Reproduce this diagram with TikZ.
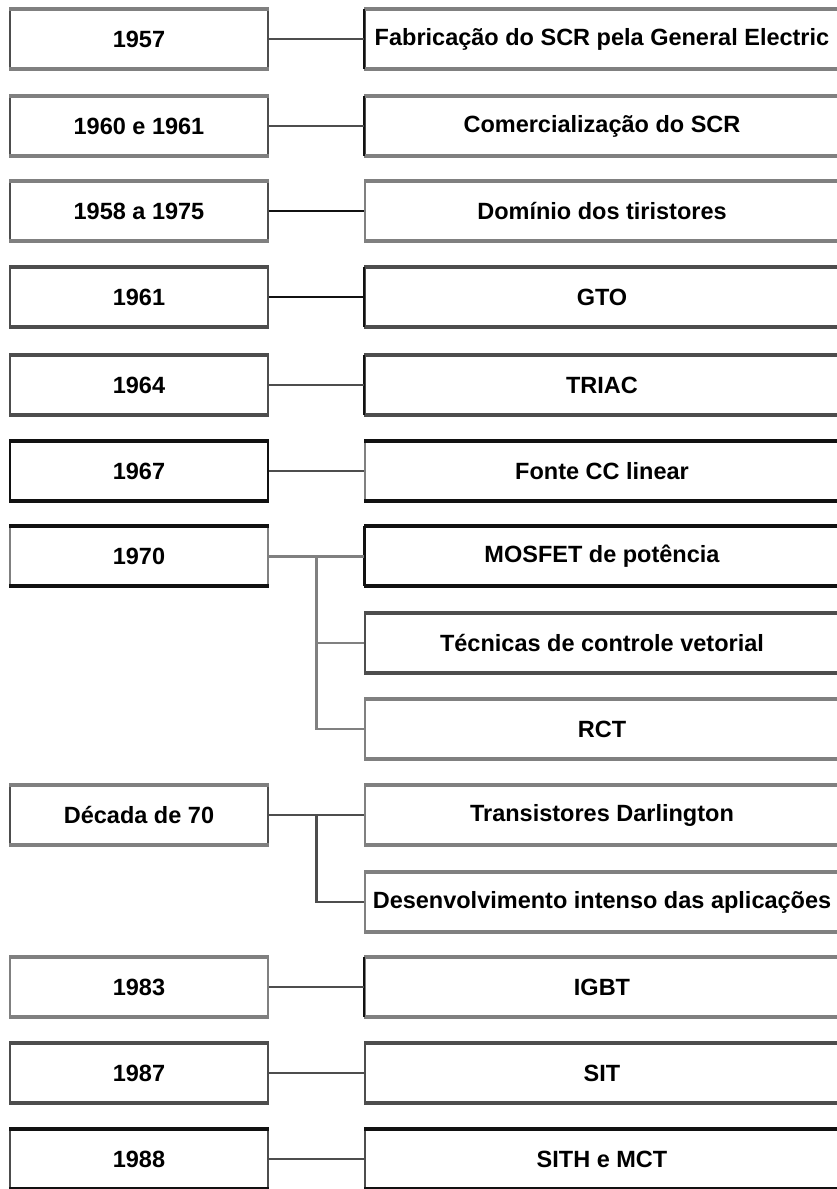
\documentclass[tikz,border=0pt]{standalone}
\usepackage{fontspec}
\setmainfont{Liberation Sans}
\usetikzlibrary{calc}
\definecolor{cg}{HTML}{808080}
\definecolor{cd}{HTML}{4D4D4D}
\definecolor{ck}{HTML}{111111}
\tikzset{
  txt/.style={font=\fontsize{23.5}{27}\selectfont\bfseries, inner sep=0pt},
  lbox/.style={txt, draw=#1, line width=2pt, minimum width=258pt, minimum height=58pt},
  rbox/.style={txt, draw=#1, line width=2pt, minimum width=474pt, minimum height=58pt},
  conn/.style={draw=#1, line width=2.4pt},
  rim/.style={draw=#1, line width=3.8pt},
  lside/.style={draw=ck, line width=2.6pt}
}
\begin{document}
\begin{tikzpicture}[x=1pt,y=-1pt]
\useasboundingbox[fill=white] (0,0) rectangle (836,1189);
% left boxes
\node[lbox=cd] (l1) at (139,39) {1957};
\node[lbox=cd] (l2) at (139,126) {1960 e 1961};
\node[lbox=cd] (l3) at (139,211) {1958 a 1975};
\node[lbox=cd] (l4) at (139,297) {1961};
\node[lbox=cd] (l5) at (139,385) {1964};
\node[lbox=ck] (l6) at (139,471) {1967};
\node[lbox=cg] (l7) at (139,556) {1970};
\node[lbox=cd] (l8) at (139,815) {Década de 70};
\node[lbox=cg] (l9) at (139,987) {1983};
\node[lbox=cd] (l10) at (139,1073) {1987};
\node[lbox=cd] (l11) at (139,1159) {1988};
% right boxes
\node[rbox=cd] (r1) at (602,39) {Fabricação do SCR pela General Electric};
\node[rbox=cd] (r2) at (602,126) {Comercialização do SCR};
\node[rbox=cg] (r3) at (602,211) {Domínio dos tiristores};
\node[rbox=cd] (r4) at (602,297) {GTO};
\node[rbox=cd] (r5) at (602,385) {TRIAC};
\node[rbox=cg] (r6) at (602,471) {Fonte CC linear};
\node[rbox=ck] (r7) at (602,556) {MOSFET de potência};
\node[rbox=cd] (r7b) at (602,643) {Técnicas de controle vetorial};
\node[rbox=cg] (r7c) at (602,729) {RCT};
\node[rbox=cg] (r8) at (602,815) {Transistores Darlington};
\node[rbox=cg] (r8b) at (602,902) {Desenvolvimento intenso das aplicações};
\node[rbox=cg] (r9) at (602,987) {IGBT};
\node[rbox=cd] (r10) at (602,1073) {SIT};
\node[rbox=cd] (r11) at (602,1159) {SITH e MCT};
% thick top and bottom rims
\foreach \n/\c in {l1/cg,l2/cg,l3/cg,l4/cd,l5/cd,l6/ck,l7/ck,l8/cg,l9/cg,l10/cd,l11/ck,
  r1/cg,r2/cg,r3/cg,r4/cd,r5/cd,r6/ck,r7/ck,r7b/cd,r7c/cg,r8/cg,r8b/cg,r9/cg,r10/cd,r11/ck}
  {\draw[rim=\c] (\n.north west) -- (\n.north east) (\n.south west) -- (\n.south east);}
% dark left sides of some right boxes
\foreach \n in {r1,r2,r4,r5,r7,r9}
  {\draw[lside] (\n.north west) -- (\n.south west);}
% connectors
\draw[conn=cd] (l1.east) -- (r1.west);
\draw[conn=cd] (l2.east) -- (r2.west);
\draw[conn=ck] (l3.east) -- (r3.west);
\draw[conn=ck] (l4.east) -- (r4.west);
\draw[conn=cd, line width=1.8pt] (l5.east) -- (r5.west);
\draw[conn=cd] (l6.east) -- (r6.west);
\coordinate (j7) at ($(l7.east)!0.5!(r7.west)$);
\draw[conn=cg, line width=3pt] (l7.east) -- (r7.west);
\draw[conn=cg] (j7) |- (r7b.west);
\draw[conn=cg] (j7) |- (r7c.west);
\coordinate (j8) at ($(l8.east)!0.5!(r8.west)$);
\draw[conn=cd] (l8.east) -- (r8.west);
\draw[conn=cd] (j8) |- (r8b.west);
\draw[conn=cd] (l9.east) -- (r9.west);
\draw[conn=cd] (l10.east) -- (r10.west);
\draw[conn=cd] (l11.east) -- (r11.west);
\end{tikzpicture}
\end{document}
